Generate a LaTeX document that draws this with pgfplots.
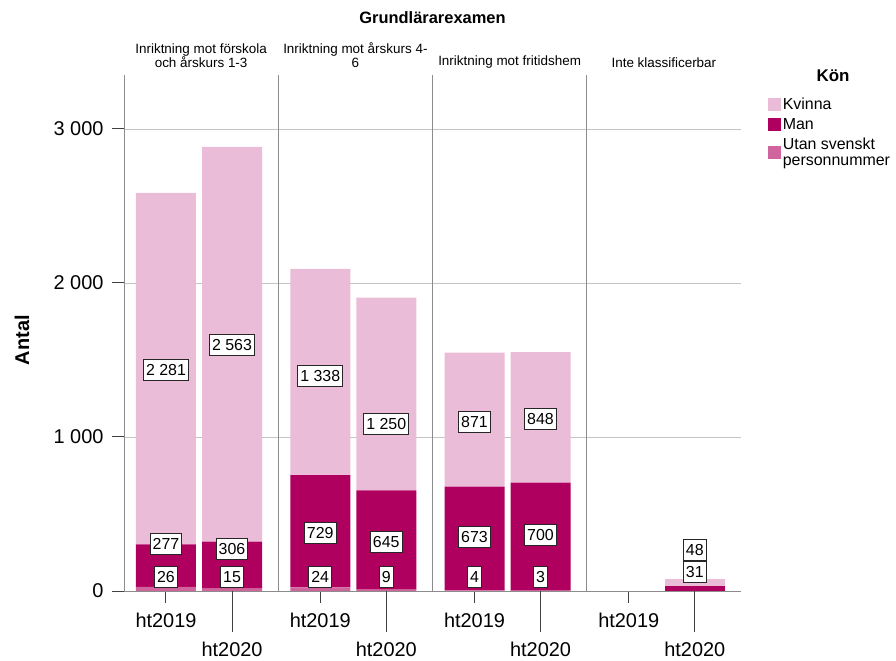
\documentclass[border=0pt]{standalone}
\usepackage{fontspec}
\setmainfont{Liberation Sans}
\usepackage{pgfplots}
\usepackage{pgfplotstable}
\pgfplotsset{compat=1.18}

\definecolor{kvinna}{HTML}{EBBCD7}
\definecolor{man}{HTML}{B0005F}
\definecolor{utan}{HTML}{D0649C}
\definecolor{gridc}{HTML}{C4C4C4}
\definecolor{axisc}{HTML}{8C8C8C}
\definecolor{tickc}{HTML}{404040}

\newcommand\ticfont{\fontsize{20}{22}\selectfont}
\newcommand\hdrfont{\fontsize{13.5}{14}\selectfont}
\newcommand\lblfont{\fontsize{16}{18}\selectfont}
\newcommand\legfont{\fontsize{16}{16.5}\selectfont}

\pgfkeys{/pgf/number format/.cd, 1000 sep={\ }, assume math mode=true}

% bar data: utan (bottom), man, kvinna (top)
\pgfplotstableread{
x utan man kvinna
0 26 277 2281
1 15 306 2563
}\dataA
\pgfplotstableread{
x utan man kvinna
0 24 729 1338
1 9 645 1250
}\dataB
\pgfplotstableread{
x utan man kvinna
0 4 673 871
1 3 700 848
}\dataC
\pgfplotstableread{
x utan man kvinna
0 0 0 0
1 0 31 48
}\dataD

% value labels: position (x, y) and printed value v
\pgfplotstableread{
x y v
0 1435 2281
1 1597 2563
0 305 277
1 273 306
0 91 26
1 91 15
}\labA
\pgfplotstableread{
x y v
0 1396 1338
1 1084 1250
0 377 729
1 318 645
0 91 24
1 91 9
}\labB
\pgfplotstableread{
x y v
0 1097 871
1 1117 848
0 351 673
1 364 700
0 91 4
1 91 3
}\labC
\pgfplotstableread{
x y v
1 266 48
1 123 31
}\labD

\pgfplotsset{
  frame/.style={
    width=154.25bp, height=516bp, scale only axis,
    xmin=-0.636, xmax=1.70, ymin=0, ymax=3350,
    anchor=south west,
  },
  panel/.style={
    frame,
    ybar stacked, bar width=60bp,
    axis x line*=bottom, axis y line*=left,
    axis line style={axisc, line width=1bp},
    ytick={0,1000,2000,3000},
    ymajorgrids, grid style={gridc, line width=0.8bp},
    xtick={0}, xticklabels={ht2019},
    extra x ticks={1}, extra x tick labels={ht2020},
    tick align=outside, major tick length=12bp,
    tick style={tickc, line width=1bp},
    extra x tick style={major tick length=41bp, xticklabel style={yshift=0bp}},
    xticklabel style={font=\ticfont, anchor=center, yshift=-17bp, inner ysep=0.5bp},
    yticklabel style={font=\ticfont, xshift=-5bp},
    title style={font=\hdrfont, align=center, anchor=south, at={(0.5,1)}, yshift=-2.5bp},
  },
  inner/.style={panel, yticklabels={,,,}, ytick style={draw=none}},
  labs/.style={
    frame, hide axis, clip=false,
    nodes near coords, nodes near coords align=center,
    point meta=explicit,
    every node near coord/.append style={anchor=center, fill=white, draw=black!85,
      line width=0.8bp, font=\lblfont, inner xsep=2.5bp, inner ysep=2bp,
      minimum height=21bp},
  },
  swatch/.style={legend image code/.code={\fill[##1] (0bp,-6.5bp) rectangle (13bp,6.5bp);}},
}

\begin{document}
\begin{tikzpicture}
% panel 1
\begin{axis}[panel, at={(124bp,70bp)}, title={Inriktning mot förskola\\och årskurs 1-3},
  ylabel={Antal},
  ylabel style={font=\fontsize{20}{22}\selectfont\bfseries, at={(axis description cs:-0.661,0.486)}, anchor=center}]
\addplot[fill=utan, draw=none] table[x=x, y=utan] {\dataA};
\addplot[fill=man, draw=none] table[x=x, y=man] {\dataA};
\addplot[fill=kvinna, draw=none] table[x=x, y=kvinna] {\dataA};
\end{axis}
\begin{axis}[labs, at={(124bp,70bp)}]
\addplot[draw=none] table[x=x, y=y, meta=v] {\labA};
\end{axis}
% panel 2
\begin{axis}[inner, at={(278.25bp,70bp)}, title={Inriktning mot årskurs 4-\\6}]
\addplot[fill=utan, draw=none] table[x=x, y=utan] {\dataB};
\addplot[fill=man, draw=none] table[x=x, y=man] {\dataB};
\addplot[fill=kvinna, draw=none] table[x=x, y=kvinna] {\dataB};
\end{axis}
\begin{axis}[labs, at={(278.25bp,70bp)}]
\addplot[draw=none] table[x=x, y=y, meta=v] {\labB};
\end{axis}
% panel 3
\begin{axis}[inner, at={(432.5bp,70bp)}, title={Inriktning mot fritidshem}]
\addplot[fill=utan, draw=none] table[x=x, y=utan] {\dataC};
\addplot[fill=man, draw=none] table[x=x, y=man] {\dataC};
\addplot[fill=kvinna, draw=none] table[x=x, y=kvinna] {\dataC};
\end{axis}
\begin{axis}[labs, at={(432.5bp,70bp)}]
\addplot[draw=none] table[x=x, y=y, meta=v] {\labC};
\end{axis}
% panel 4
\begin{axis}[inner, at={(586.75bp,70bp)}, title={Inte klassificerbar},
  reverse legend,
  legend style={at={(axis description cs:1.176,0.957)}, anchor=north west, draw=none, fill=none,
    font=\legfont, cells={anchor=west, align=left}, row sep=5bp, inner sep=0pt,
    nodes={inner xsep=1.5bp, inner ysep=1bp}}]
\addplot[fill=utan, draw=none, swatch] table[x=x, y=utan] {\dataD};
\addlegendentry{Utan svenskt\\personnummer}
\addplot[fill=man, draw=none, swatch] table[x=x, y=man] {\dataD};
\addlegendentry{Man}
\addplot[fill=kvinna, draw=none, swatch] table[x=x, y=kvinna] {\dataD};
\addlegendentry{Kvinna}
\end{axis}
\begin{axis}[labs, at={(586.75bp,70bp)}]
\addplot[draw=none] table[x=x, y=y, meta=v] {\labD};
\end{axis}
% titles
\node[font=\fontsize{16.5}{18}\selectfont\bfseries] at (432.5bp,643bp) {Grundlärarexamen};
\node[font=\fontsize{17}{19}\selectfont\bfseries] at (833bp,585bp) {Kön};
\pgfresetboundingbox
\path (0,0) rectangle (896bp,661bp);
\end{tikzpicture}
\end{document}
